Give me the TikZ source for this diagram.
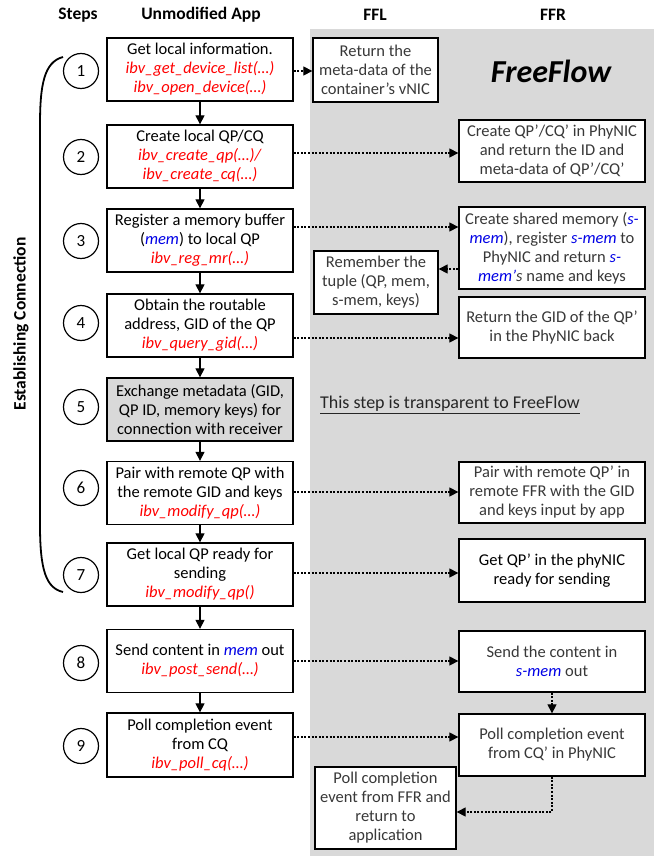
\documentclass[tikz,border=0pt]{standalone}
\usepackage{fontspec}
\setmainfont{Carlito}
\usepackage{tikz}
\usetikzlibrary{arrows.meta}
\usepackage{xcolor}
\definecolor{bggray}{RGB}{217,217,217}
\definecolor{apired}{RGB}{255,0,0}
\definecolor{memblue}{RGB}{0,0,230}
\newcommand{\api}[1]{\textcolor{apired}{\textit{#1}}} % verbs call
\newcommand{\memc}[1]{\textcolor{memblue}{\textit{#1}}} % buffer name
\newcommand{\dotlink}[3] % from node, to node, y in px
{
	\draw[dotarrow] (#1.east |- 0,#3) -- (#2.west |- 0,#3);
}
\tikzset{
	every node/.style={font=\fontsize{16.5}{19}\selectfont},
	appbox/.style={draw, fill=white, line width=1.3pt, minimum width=186pt, minimum height=63pt, inner sep=0pt, align=center},
	ffbox/.style={draw, fill=white, line width=1.3pt, minimum width=186pt, inner sep=0pt, align=center, text=black!78},
	stepnum/.style={draw, circle, line width=1.2pt, minimum size=35pt, inner sep=0pt, font=\fontsize{17}{19}\selectfont},
	header/.style={font=\fontsize{17.5}{20}\selectfont\bfseries},
	solidarrow/.style={line width=1.2pt, -{Triangle[length=9pt,width=9pt]}},
	dotarrow/.style={line width=1.2pt, dash pattern=on 2pt off 1.6pt, -{Triangle[length=9pt,width=9pt]}}
}
\begin{document}
\begin{tikzpicture}[x=1pt, y=-1pt]
	% 654px x 856px, 1px = 1pt
	\useasboundingbox (0,0) rectangle (654,856);
	\fill[bggray] (310,29) rectangle (654,856);
	
	% headers
	\node[header] (hsteps) at (78,15) {Steps};
	\node[header] (happ) at (201,15) {Unmodified App};
	\node[header] (hffl) at (375,15) {FFL};
	\node[header] (hffr) at (553,15) {FFR};
	\node[font=\fontsize{32}{34}\selectfont\bfseries\itshape] (ff) at (551,71) {FreeFlow};
	
	% app side
	\node[appbox] (b1) at (200,69.5) {Get local information.\\ \api{ibv\_get\_device\_list(\ldots)}\\ \api{ibv\_open\_device(\ldots)}};
	\node[appbox] (b2) at (200,156.5) {Create local QP/CQ\\ \api{ibv\_create\_qp(\ldots)/}\\ \api{ibv\_create\_cq(\ldots)}};
	\node[appbox] (b3) at (200,240.5) {Register a memory buffer\\ (\memc{mem}) to local QP\\ \api{ibv\_reg\_mr(\ldots)}};
	\node[appbox] (b4) at (200,325.5) {Obtain the routable\\ address, GID of the QP\\ \api{ibv\_query\_gid(\ldots)}};
	\node[appbox, fill=bggray] (b5) at (200,409.5) {Exchange metadata (GID,\\ QP ID, memory keys) for\\ connection with receiver};
	\node[appbox] (b6) at (200,493) {Pair with remote QP with\\ the remote GID and keys\\ \api{ibv\_modify\_qp(\ldots)}};
	\node[appbox] (b7) at (200,574.5) {Get local QP ready for\\ sending\\ \api{ibv\_modify\_qp()}};
	\node[appbox] (b8) at (200,661) {Send content in \memc{mem} out\\ \api{ibv\_post\_send(\ldots)}};
	\node[appbox, minimum height=64pt] (b9) at (200,745) {Poll completion event\\ from CQ\\ \api{ibv\_poll\_cq(\ldots)}};
	
	% step numbers
	\node[stepnum] (s1) at (81,71) {1};
	\node[stepnum] (s2) at (81,157) {2};
	\node[stepnum] (s3) at (81,241) {3};
	\node[stepnum] (s4) at (81,323) {4};
	\node[stepnum] (s5) at (81,407) {5};
	\node[stepnum] (s6) at (81,488) {6};
	\node[stepnum] (s7) at (81,575) {7};
	\node[stepnum] (s8) at (81,663) {8};
	\node[stepnum] (s9) at (81,746) {9};
	
	% establishing connection bracket
	\draw[line width=1.8pt] (63,57) .. controls (44,62) and (40,85) .. (40,125) -- (40,525) .. controls (40,570) and (46,588) .. (63,592);
	\node[header, rotate=90] (est) at (21,324) {Establishing Connection};
	
	% FreeFlow side
	\node[ffbox, minimum width=125pt, minimum height=64pt] (r1) at (375.5,70) {Return the\\ meta-data of the\\ container’s vNIC};
	\node[ffbox, minimum height=62pt] (r2) at (552,151) {Create QP’/CQ’ in PhyNIC\\ and return the ID and\\ meta-data of QP’/CQ’};
	\node[ffbox, minimum height=82pt] (r3) at (552,248) {Create shared memory (\memc{s-}\\ \memc{mem}), register \memc{s-mem} to\\ PhyNIC and return \memc{s-}\\ \memc{mem’}\textit{s} name and keys};
	\node[ffbox, minimum width=124pt, minimum height=63pt] (rem) at (376,282.5) {Remember the\\ tuple (QP, mem,\\ s-mem, keys)};
	\node[ffbox, minimum height=61pt] (r4) at (552,327.5) {Return the GID of the QP’\\ in the PhyNIC back};
	\node[text=black!85, font=\fontsize{18}{20}\selectfont] (note) at (450,405) {\underline{This step is transparent to FreeFlow}};
	\node[ffbox, minimum height=61pt] (r6) at (552,492.5) {Pair with remote QP’ in\\ remote FFR with the GID\\ and keys input by app};
	\node[ffbox, minimum height=63pt, text=black] (r7) at (552,570.5) {Get QP’ in the phyNIC\\ ready for sending};
	\node[ffbox, minimum height=61pt] (r8) at (552,661.5) {Send the content in\\ \memc{s-mem} out};
	\node[ffbox, minimum height=62pt] (r9) at (552,745) {Poll completion event\\ from CQ’ in PhyNIC};
	\node[ffbox, minimum width=141pt, minimum height=82pt] (rlast) at (385.5,808) {Poll completion\\ event from FFR and\\ return to\\ application};
	
	% app flow
	\draw[solidarrow] (b1) -- (b2);
	\draw[solidarrow] (b2) -- (b3);
	\draw[solidarrow] (b3) -- (b4);
	\draw[solidarrow] (b4) -- (b5);
	\draw[solidarrow] (b5) -- (b6);
	\draw[solidarrow] (b6) -- (b7);
	\draw[solidarrow] (b7) -- (b8);
	\draw[solidarrow] (b8) -- (b9);
	
	% calls into FreeFlow
	\dotlink{b1}{r1}{71};
	\dotlink{b2}{r2}{153};
	\dotlink{b3}{r3}{227};
	\dotlink{b4}{r4}{338};
	\dotlink{b6}{r6}{492};
	\dotlink{b7}{r7}{573};
	\dotlink{b8}{r8}{661};
	\dotlink{b9}{r9}{737};
	\draw[dotarrow] (r3.west |- 0,269) -- (rem.east |- 0,269);
	\draw[dotarrow] (r8) -- (r9);
	\draw[dotarrow] (r9.south) |- (rlast.east |- 0,812);
\end{tikzpicture}
\end{document}
